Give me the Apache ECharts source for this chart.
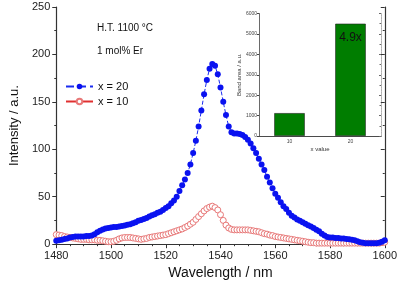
<!DOCTYPE html>
<html>
<head>
<meta charset="utf-8">
<script src="https://cdn.jsdelivr.net/npm/echarts@6/dist/echarts.min.js"></script>
<style>
  html, body { margin: 0; padding: 0; background: #fff; }
  #chart { width: 400px; height: 285px; }
</style>
</head>
<body>
<div id="chart"></div>
<script>
// wavelength grid: 1480 ... 1600 nm, one point per nm
const wlStart = 1480;
const wlStep = 1;

// x = 20 (filled blue)
const x20 = [
  3.5, 4, 4.5, 5.5, 6, 7, 7.5, 8, 8, 8,
  8, 8.5, 8.5, 9, 10.5, 12.5, 14, 15.5, 16.5, 17,
  17.5, 18, 18, 18.5, 19, 19.5, 20.5, 21, 22, 23,
  24.5, 25.5, 26.5, 27.5, 29, 30.5, 31.5, 33, 34, 36,
  38, 40, 43, 46, 50, 56, 62, 68, 75, 84,
  96, 109, 124, 141, 158, 173, 185, 190, 188, 179,
  165, 150, 136, 124, 118, 116.5, 116.5, 116, 115, 113,
  110, 106, 101, 96, 90, 84, 78, 71, 65, 59,
  53, 49, 44, 40, 37, 33, 30, 28, 26, 24.5,
  23, 21.5, 20, 18.5, 17, 15, 13.5, 11, 9, 7.5,
  7, 7, 6.5, 6.5, 6, 6, 5.5, 5, 4.5, 4,
  3, 2, 1.5, 1, 1, 1, 1, 1, 1.5, 2.5,
  4
];

// x = 10 (open red)
const x10 = [
  10, 9.5, 9, 8, 7.5, 7, 6.5, 6, 5.5, 5,
  5, 5, 4.5, 4.5, 4.5, 4, 4, 3.5, 3, 2.5,
  2.5, 3, 4, 5.5, 6.5, 7, 7, 7, 6.5, 6,
  5.5, 5, 5.5, 6, 7, 7.5, 8, 8.5, 9, 9.5,
  10, 11, 12, 13, 14, 15, 16, 17.5, 19, 21,
  23, 26, 29, 32, 35, 37.5, 39, 40, 38.5, 36,
  31, 25, 20, 17, 15.5, 15, 15, 15, 15, 15,
  15, 14.5, 14, 13.5, 13, 12, 11, 10.5, 9.5, 9,
  8, 7.5, 7, 6.5, 6, 5.5, 5, 4.5, 4, 3.5,
  3, 2.5, 2, 1.5, 1.5, 1, 1, 1, 1, 1,
  1, 1, 1, 1, 1, 1, 1, 1, 1, 1,
  1, 1, 1, 1, 1, 1, 1, 1, 1, 1.5,
  2
];

// inset: band area
const insetCats = ['10', '20'];
const bandArea = [1120, 5500];
const ratioLabel = '4.9x';

const seriesNames = ['x = 20', 'x = 10'];

function pairs(vals) {
  return vals.map((v, i) => [wlStart + i * wlStep, v]);
}

const font = 'Liberation Sans, Arial, sans-serif';
const axisColor = '#333';
const plain = (v) => String(v);

let myChart = echarts.init(document.getElementById('chart'));
let option = {
  animation: false,
  backgroundColor: '#fff',
  textStyle: { fontFamily: font },
  legend: {
    orient: 'vertical',
    left: 60,
    top: 76,
    itemWidth: 27,
    itemHeight: 7,
    itemGap: 4,
    textStyle: { fontSize: 11, color: '#111', fontFamily: font },
    data: seriesNames
  },
  grid: [
    { left: 46, right: 13, top: 7, bottom: 38 },
    { left: 259, right: 19, top: 13.5, bottom: 149, show: true, backgroundColor: '#fff', borderWidth: 0 }
  ],
  xAxis: [
    {
      type: 'value', gridIndex: 0, min: 1480, max: 1600, interval: 20,
      name: 'Wavelength / nm', nameLocation: 'middle', nameGap: 21,
      nameTextStyle: { fontSize: 14, color: '#111' },
      axisLine: { lineStyle: { color: axisColor, width: 1.2 } },
      axisTick: { length: 4, lineStyle: { color: axisColor } },
      minorTick: { show: true, splitNumber: 4, length: 2, lineStyle: { color: axisColor } },
      axisLabel: { fontSize: 11, color: '#222', margin: 6, formatter: plain },
      splitLine: { show: false }
    },
    {
      type: 'value', gridIndex: 0, position: 'top', min: 1480, max: 1600, interval: 20,
      axisLine: { lineStyle: { color: axisColor, width: 1.2 } },
      axisTick: { inside: true, length: 4, lineStyle: { color: axisColor } },
      minorTick: { show: true, splitNumber: 4, length: 2, lineStyle: { color: axisColor } },
      axisLabel: { show: false },
      splitLine: { show: false }
    },
    {
      type: 'category', gridIndex: 1, data: insetCats,
      name: 'x value', nameLocation: 'middle', nameGap: 10,
      nameTextStyle: { fontSize: 6, color: '#333' },
      axisLine: { lineStyle: { color: '#444', width: 0.8 } },
      axisTick: { alignWithLabel: false, length: 2, lineStyle: { color: '#444' } },
      axisLabel: { fontSize: 5, color: '#444', margin: 3 }
    },
    {
      type: 'category', gridIndex: 1, position: 'top', data: insetCats,
      axisLine: { lineStyle: { color: '#444', width: 0.8 } },
      axisTick: { show: false },
      axisLabel: { show: false }
    }
  ],
  yAxis: [
    {
      type: 'value', gridIndex: 0, min: 0, max: 250, interval: 50,
      name: 'Intensity / a.u.', nameLocation: 'middle', nameGap: 30,
      nameTextStyle: { fontSize: 13, color: '#111' },
      axisLine: { show: true, lineStyle: { color: axisColor, width: 1.2 } },
      axisTick: { show: true, length: 4, lineStyle: { color: axisColor } },
      minorTick: { show: true, splitNumber: 2, length: 2, lineStyle: { color: axisColor } },
      axisLabel: { fontSize: 11, color: '#222', margin: 6, formatter: plain },
      splitLine: { show: false }
    },
    {
      type: 'value', gridIndex: 0, position: 'right', min: 0, max: 250, interval: 50,
      axisLine: { show: true, lineStyle: { color: axisColor, width: 1.2 } },
      axisTick: { show: true, inside: true, length: 4, lineStyle: { color: axisColor } },
      minorTick: { show: true, splitNumber: 2, length: 2, lineStyle: { color: axisColor } },
      axisLabel: { show: false },
      splitLine: { show: false }
    },
    {
      type: 'value', gridIndex: 1, min: 0, max: 6000, interval: 1000,
      name: 'Band area / a.u.', nameLocation: 'middle', nameGap: 16,
      nameTextStyle: { fontSize: 6, color: '#333' },
      axisLine: { show: true, lineStyle: { color: '#444', width: 0.8 } },
      axisTick: { show: true, length: 2, lineStyle: { color: '#444' } },
      axisLabel: { fontSize: 5, color: '#444', margin: 2, formatter: plain },
      splitLine: { show: false }
    },
    {
      type: 'value', gridIndex: 1, position: 'right', min: 0, max: 6000, interval: 1000,
      axisLine: { show: true, lineStyle: { color: '#999', width: 0.8, type: 'dotted' } },
      axisTick: { show: true, inside: true, length: 2, lineStyle: { color: '#666' } },
      minorTick: { show: true, splitNumber: 2, length: 1.5, lineStyle: { color: '#666' } },
      axisLabel: { show: false },
      splitLine: { show: false }
    }
  ],
  graphic: [
    { type: 'text', left: 97, top: 23, style: { text: 'H.T. 1100 °C', fontSize: 10, fill: '#111', fontFamily: font } },
    { type: 'text', left: 97, top: 46, style: { text: '1 mol% Er', fontSize: 10, fill: '#111', fontFamily: font } }
  ],
  series: [
    {
      name: 'x = 10',
      type: 'line',
      xAxisIndex: 0, yAxisIndex: 0,
      data: pairs(x10),
      symbol: 'circle',
      symbolSize: 6,
      lineStyle: { color: '#e03030', width: 0.8 },
      itemStyle: { color: '#fff', borderColor: '#e87878', borderWidth: 1 },
      z: 2
    },
    {
      name: 'x = 20',
      type: 'line',
      xAxisIndex: 0, yAxisIndex: 0,
      data: pairs(x20),
      symbol: 'circle',
      symbolSize: 6,
      lineStyle: { color: '#1a2cf0', width: 1, type: 'dashed' },
      itemStyle: { color: '#0a12f0', borderWidth: 0 },
      z: 3
    },
    {
      name: 'band',
      type: 'bar',
      xAxisIndex: 2, yAxisIndex: 2,
      data: bandArea,
      barWidth: '50%',
      itemStyle: { color: '#007d00', borderColor: '#222', borderWidth: 0.6 },
      label: {
        show: true,
        position: 'insideTop',
        distance: 8,
        fontSize: 12,
        color: '#111',
        formatter: (p) => p.dataIndex === 1 ? ratioLabel : ''
      },
      z: 5
    }
  ]
};

option && myChart.setOption(option);
</script>
</body>
</html>
